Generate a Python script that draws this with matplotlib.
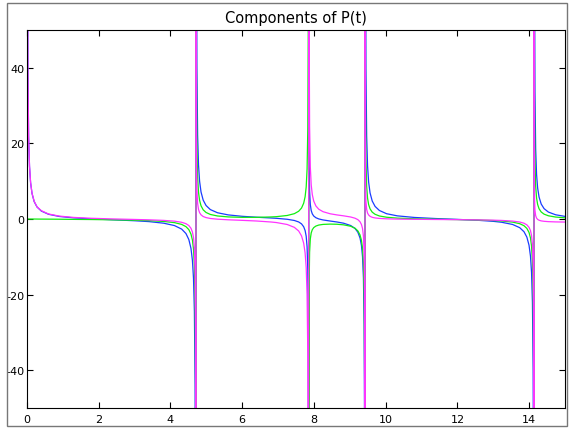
import numpy as np
import matplotlib
matplotlib.use("Agg")
import matplotlib.pyplot as plt
from matplotlib.patches import Rectangle

# Sample points (dense near the poles)
t = np.array([
    # 0 .. 3pi/2
    0.002, 0.012, 0.025, 0.045, 0.07, 0.1, 0.14, 0.2, 0.28, 0.4,
    0.6, 0.9, 1.3, 1.8, 2.4, 3.0, 3.4,
    3.812, 4.112, 4.312, 4.432, 4.512, 4.572, 4.612, 4.642, 4.667, 4.687, 4.700, 4.710,
    # 3pi/2 .. 5pi/2
    4.714, 4.724, 4.737, 4.757, 4.782, 4.812, 4.852, 4.912, 4.992, 5.112,
    5.312, 5.612, 6.0, 6.4, 6.8,
    6.954, 7.254, 7.454, 7.574, 7.654, 7.714, 7.754, 7.784, 7.809, 7.829, 7.842, 7.852,
    # 5pi/2 .. 3pi
    7.856, 7.866, 7.879, 7.899, 7.924, 7.954, 7.994, 8.054, 8.134, 8.254, 8.454,
    8.64,
    8.825, 9.025, 9.145, 9.225, 9.285, 9.325, 9.355, 9.380, 9.400, 9.413, 9.423,
    # 3pi .. 9pi/2
    9.427, 9.437, 9.450, 9.470, 9.495, 9.525, 9.565, 9.625, 9.705, 9.825, 10.025, 10.325,
    10.8, 11.4, 12.0, 12.6, 13.0,
    13.237, 13.537, 13.737, 13.857, 13.937, 13.997, 14.037, 14.067, 14.092, 14.112, 14.125, 14.135,
    # 9pi/2 .. 15
    14.139, 14.149, 14.162, 14.182, 14.207, 14.237, 14.277, 14.337, 14.417, 14.537, 14.737, 15.0,
])

p_blue = np.array([
    499.6, 82.9, 39.6, 21.8, 13.9, 9.6, 6.75, 4.6, 3.17, 2.10,
    1.25, 0.67, 0.30, 0.03, -0.21, -0.46, -0.69,
    -1.11, -1.74, -2.67, -3.85, -5.43, -7.79, -10.93, -15.65, -24.38, -43.94, -91.6, -549.9,
    500.0, 83.3, 40.0, 22.2, 14.3, 10.0, 7.15, 5.0, 3.57, 2.49,
    1.65, 1.08, 0.71, 0.47, 0.27,
    0.18, -0.07, -0.39, -0.78, -1.29, -2.05, -3.05, -4.55, -7.34, -13.56, -28.76, -174.6,
    99.4, 16.07, 7.40, 3.84, 2.24, 1.37, 0.79, 0.34, 0.02, -0.25, -0.54,
    -0.79,
    -1.11, -1.73, -2.5, -3.5, -5.01, -7.01, -10.02, -15.58, -28.02, -58.35, -350.0,
    499.8, 83.1, 39.8, 22.0, 14.06, 9.76, 6.90, 4.76, 3.33, 2.25, 1.40, 0.83,
    0.41, 0.12, -0.10, -0.36, -0.62,
    -0.87, -1.44, -2.29, -3.37, -4.80, -6.94, -9.80, -14.09, -22.03, -39.81, -83.1, -499.8,
    424.7, 70.5, 33.7, 18.6, 11.8, 8.2, 5.8, 3.95, 2.74, 1.83, 1.12, 0.69,
])

p_green = np.array([
    0.0, 0.0, 0.0, 0.0, 0.0, -0.01, -0.01, -0.01, -0.02, -0.03,
    -0.04, -0.06, -0.10, -0.14, -0.22, -0.32, -0.44,
    -0.65, -0.96, -1.43, -2.02, -2.81, -4.0, -5.57, -7.93, -12.29, -22.07, -45.9, -275.1,
    249.9, 41.6, 19.9, 11.0, 7.07, 4.93, 3.50, 2.43, 1.73, 1.20,
    0.80, 0.55, 0.44, 0.44, 0.54,
    0.62, 0.93, 1.41, 2.05, 2.90, 4.18, 5.89, 8.46, 13.22, 23.89, 49.89, 299.9,
    -100.8, -17.49, -8.82, -5.27, -3.69, -2.84, -2.28, -1.87, -1.60, -1.43, -1.35,
    -1.39,
    -1.54, -1.92, -2.44, -3.15, -4.21, -5.64, -7.78, -11.74, -20.63, -42.30, -250.6,
    199.8, 33.1, 15.8, 8.70, 5.53, 3.81, 2.67, 1.81, 1.24, 0.80, 0.47, 0.23,
    0.06, -0.06, -0.16, -0.28, -0.41,
    -0.53, -0.82, -1.24, -1.78, -2.49, -3.56, -4.99, -7.14, -11.10, -20.0, -41.66, -250.0,
    199.9, 33.2, 15.85, 8.74, 5.56, 3.85, 2.71, 1.85, 1.28, 0.85, 0.52, 0.31,
])

p_magenta = np.array([
    499.7, 83.0, 39.7, 21.9, 14.0, 9.7, 6.8, 4.7, 3.2, 2.2,
    1.33, 0.77, 0.42, 0.19, 0.02, -0.12, -0.22,
    -0.37, -0.57, -0.87, -1.24, -1.73, -2.46, -3.43, -4.89, -7.59, -13.64, -28.4, -170.0,
    99.7, 16.35, 7.68, 4.12, 2.53, 1.67, 1.10, 0.66, 0.37, 0.14,
    -0.05, -0.21, -0.36, -0.53, -0.79,
    -0.94, -1.45, -2.21, -3.17, -4.46, -6.39, -8.96, -12.83, -19.97, -35.97, -74.97, -450.0,
    300.5, 50.5, 24.5, 13.8, 9.04, 6.47, 4.75, 3.46, 2.59, 1.93, 1.38,
    1.08,
    0.84, 0.53, 0.21, -0.17, -0.73, -1.45, -2.53, -4.52, -8.97, -19.81, -124.0,
    59.9, 9.86, 4.66, 2.52, 1.57, 1.06, 0.71, 0.45, 0.28, 0.15, 0.05, -0.03,
    -0.08, -0.13, -0.17, -0.24, -0.31,
    -0.38, -0.55, -0.80, -1.12, -1.55, -2.20, -3.05, -4.34, -6.72, -12.05, -25.05, -150.0,
    60.0, 5.77, 2.3, 0.88, 0.24, -0.1, -0.33, -0.5, -0.61, -0.7, -0.77, -0.81,
])

x_ticks = [0, 2, 4, 6, 8, 10, 12, 14]
y_ticks = [-40, -20, 0, 20, 40]

plt.rcParams['font.family'] = ['DejaVu Sans']
plt.rcParams['axes.unicode_minus'] = False

fig = plt.figure(figsize=(5.69, 4.31), dpi=100)
ax = fig.add_axes([27 / 569, 1 - 409 / 431, 538 / 569, 378 / 431])

ax.plot(t, p_blue, color='#1a3cff', lw=0.9)
ax.plot(t, p_green, color='#11ee11', lw=0.9)
ax.plot(t, p_magenta, color='#ff33ff', lw=0.9)

ax.set_xlim(0, 15)
ax.set_ylim(-50, 50)
ax.set_xticks(x_ticks)
ax.set_yticks(y_ticks)
ax.tick_params(direction='in', top=True, right=True, length=4, width=0.8,
               labelsize=8)
ax.tick_params(axis='y', pad=2)
ax.tick_params(axis='x', pad=4)
ax.set_title("Components of P(t)", fontsize=10.5, pad=6)

# thin grey frame round the whole figure
fig.patches.append(Rectangle((7 / 569, 4 / 431), 560 / 569, 423 / 431,
                             transform=fig.transFigure, fill=False,
                             edgecolor='#777777', lw=1.0))

fig.savefig("out.png", dpi=100)
